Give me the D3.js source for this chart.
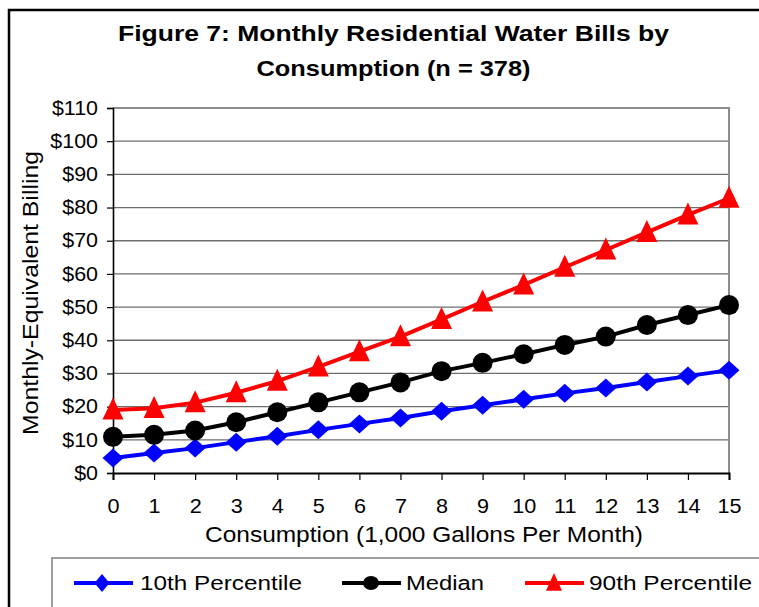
<!DOCTYPE html>
<html>
<head>
<meta charset="utf-8">
<script src="https://cdn.jsdelivr.net/npm/d3@7"></script>
<style>
  body { margin: 0; background: #fff; }
  text { font-family: "Liberation Sans", Arial, sans-serif; }
</style>
</head>
<body>
<svg id="chart" width="759" height="607"></svg>
<script>
// chart values
var consumption = [0, 1, 2, 3, 4, 5, 6, 7, 8, 9, 10, 11, 12, 13, 14, 15];
var p10 = [4.5, 6, 7.5, 9.3, 11.1, 13, 14.8, 16.6, 18.6, 20.4, 22.2, 24, 25.6, 27.4, 29.2, 31];
var median = [10.9, 11.5, 12.8, 15.3, 18.3, 21.3, 24.3, 27.3, 30.7, 33.2, 35.8, 38.6, 41.1, 44.6, 47.6, 50.6];
var p90 = [19, 19.5, 21.2, 24.2, 27.7, 32, 36.6, 41.1, 46.3, 51.6, 56.7, 62, 67.2, 72.5, 77.8, 82.8];
var yTicks = [0, 10, 20, 30, 40, 50, 60, 70, 80, 90, 100, 110];
var seriesNames = ["10th Percentile", "Median", "90th Percentile"];

var svg = d3.select("#chart");

var x = d3.scaleLinear().domain([0, 15]).range([113, 729]),
    y = d3.scaleLinear().domain([0, 110]).range([473, 108]);

// outer frame and legend box (they run off the page on the right / bottom)
svg.append("rect")
    .attr("x", 9).attr("y", 10)
    .attr("width", 800).attr("height", 700)
    .attr("fill", "#fff").attr("stroke", "#000").attr("stroke-width", 2.5);

svg.append("rect")
    .attr("x", 52).attr("y", 558)
    .attr("width", 800).attr("height", 100)
    .attr("fill", "#fff").attr("stroke", "#808080").attr("stroke-width", 1.5);

// title
var title = svg.append("g")
    .attr("font-weight", "bold")
    .attr("font-size", 22.5)
    .attr("text-anchor", "middle");
title.append("text")
    .attr("x", 393.5).attr("y", 41)
    .attr("textLength", 551).attr("lengthAdjust", "spacingAndGlyphs")
    .text("Figure 7: Monthly Residential Water Bills by");
title.append("text")
    .attr("x", 393.5).attr("y", 76)
    .attr("textLength", 274).attr("lengthAdjust", "spacingAndGlyphs")
    .text("Consumption (n = 378)");

// gridlines
svg.append("g")
    .selectAll("line")
    .data(yTicks.filter((d) => d > 0 && d < 110))
    .enter()
    .append("line")
    .attr("x1", x(0)).attr("x2", x(15))
    .attr("y1", (d) => y(d)).attr("y2", (d) => y(d))
    .attr("stroke", "#6e6e6e").attr("stroke-width", 1.3);

// plot area border (top and right, gray)
svg.append("path")
    .attr("d", `M${x(0)},${y(110)}H${x(15)}V${y(0)}`)
    .attr("fill", "none")
    .attr("stroke", "#8c8c8c").attr("stroke-width", 2);

// y axis
var yAxis = svg.append("g")
    .attr("transform", `translate(${x(0)},0)`)
    .call(d3.axisLeft(y).tickValues(yTicks).tickSize(6).tickPadding(9).tickFormat((d) => "$" + d));
yAxis.select(".domain").attr("stroke", "#000").attr("stroke-width", 1.6);
yAxis.selectAll(".tick line").attr("stroke", "#000").attr("stroke-width", 1.2);
yAxis.selectAll(".tick text")
    .attr("font-size", 19.5)
    .attr("fill", "#000")
    .each(function() {
        let len = this.getComputedTextLength();
        d3.select(this).attr("textLength", len * 1.1).attr("lengthAdjust", "spacingAndGlyphs");
    });

// x axis
var xAxis = svg.append("g")
    .attr("transform", `translate(0,${y(0)})`)
    .call(d3.axisBottom(x).tickValues(consumption).tickSize(7).tickPadding(29).tickFormat(d3.format("d")));
xAxis.select(".domain").attr("stroke", "#000").attr("stroke-width", 2);
xAxis.selectAll(".tick line").attr("stroke", "#000").attr("stroke-width", 1.2);
xAxis.selectAll(".tick text")
    .attr("font-size", 20)
    .attr("fill", "#000")
    .attr("dy", "0.22em")
    .each(function() {
        let len = this.getComputedTextLength();
        d3.select(this).attr("textLength", len * 1.08).attr("lengthAdjust", "spacingAndGlyphs");
    });

// axis titles
svg.append("text")
    .attr("x", 424).attr("y", 542)
    .attr("text-anchor", "middle")
    .attr("font-size", 22)
    .attr("textLength", 438).attr("lengthAdjust", "spacingAndGlyphs")
    .text("Consumption (1,000 Gallons Per Month)");

svg.append("text")
    .attr("transform", "translate(38,293) rotate(-90)")
    .attr("text-anchor", "middle")
    .attr("font-size", 22)
    .attr("textLength", 284).attr("lengthAdjust", "spacingAndGlyphs")
    .text("Monthly-Equivalent Billing");

// marker shapes
var marker = {
    diamond: (w, h) => `M0,${-h}L${w},0L0,${h}L${-w},0Z`,
    circle: (w, h) => `M${-w},0A${w},${h} 0 1,0 ${w},0A${w},${h} 0 1,0 ${-w},0Z`,
    triangle: (w, h) => `M0,${-h * 0.62}L${w},${h * 0.48}L${-w},${h * 0.48}Z`
};

var series = [
    { name: seriesNames[0], values: p10, color: "#0000ff", shape: "diamond", size: [10.5, 9.5] },
    { name: seriesNames[1], values: median, color: "#000000", shape: "circle", size: [10, 10] },
    { name: seriesNames[2], values: p90, color: "#ff0000", shape: "triangle", size: [10.5, 20] }
];

var line = d3.line()
    .x((d, i) => x(consumption[i]))
    .y((d) => y(d));

series.forEach((s) => {
    svg.append("path")
        .attr("d", line(s.values))
        .attr("fill", "none")
        .attr("stroke", s.color)
        .attr("stroke-width", 4);

    svg.append("g")
        .selectAll("path")
        .data(s.values)
        .enter()
        .append("path")
        .attr("transform", (d, i) => `translate(${x(consumption[i])},${y(d)})`)
        .attr("d", marker[s.shape](s.size[0], s.size[1]))
        .attr("fill", s.color);
});

// legend
var legendPos = [
    { lx: 74, mx: 102, tx: 140, tl: 162, ms: [7.5, 9] },
    { lx: 342, mx: 371, tx: 406, tl: 78, ms: [8, 7] },
    { lx: 525, mx: 554, tx: 589, tl: 163, ms: [8, 16] }
];
var legendY = 583;

series.forEach((s, i) => {
    let p = legendPos[i],
        g = svg.append("g");
    g.append("line")
        .attr("x1", p.lx).attr("x2", p.lx + 59)
        .attr("y1", legendY).attr("y2", legendY)
        .attr("stroke", s.color).attr("stroke-width", 4);
    g.append("path")
        .attr("transform", `translate(${p.mx},${legendY})`)
        .attr("d", marker[s.shape](p.ms[0], p.ms[1]))
        .attr("fill", s.color);
    g.append("text")
        .attr("x", p.tx).attr("y", legendY + 7)
        .attr("font-size", 20)
        .attr("textLength", p.tl).attr("lengthAdjust", "spacingAndGlyphs")
        .text(s.name);
});
</script>
</body>
</html>
